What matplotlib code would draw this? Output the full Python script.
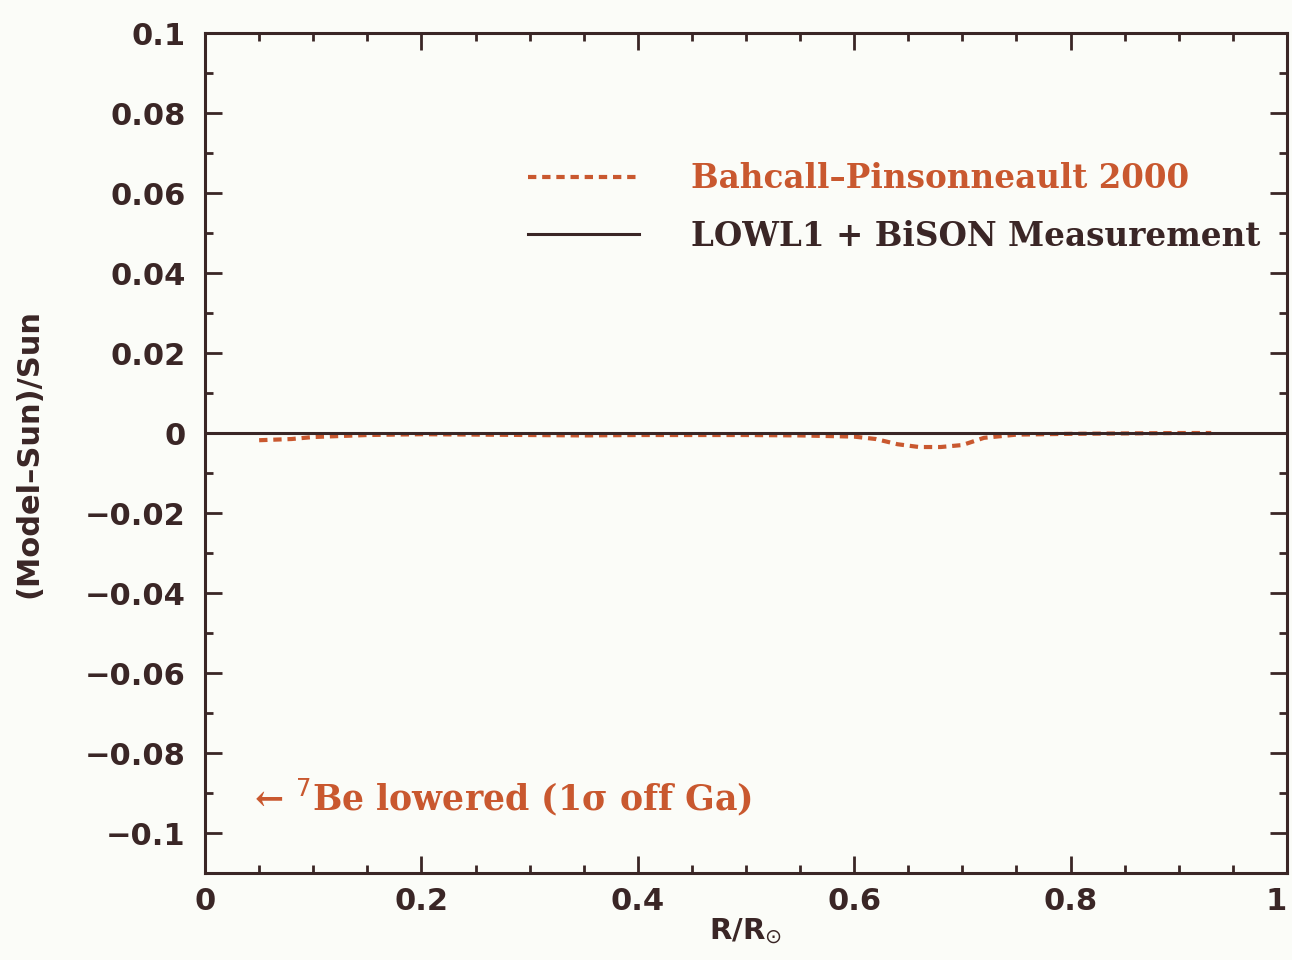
import numpy as np
import matplotlib
matplotlib.use('Agg')
import matplotlib.pyplot as plt
from matplotlib.ticker import MultipleLocator, FixedLocator
from matplotlib.lines import Line2D

# sound speed residuals, standard solar model vs helioseismic inversion
r_model = [0.05, 0.08, 0.10, 0.15, 0.20, 0.25, 0.30, 0.35, 0.40, 0.45, 0.50,
           0.55, 0.60, 0.62, 0.64, 0.66, 0.68, 0.70, 0.72, 0.75, 0.80, 0.85,
           0.90, 0.93]
dc_model = [-0.0018, -0.0015, -0.0010, -0.0005, -0.0003, -0.0004, -0.0005,
            -0.0006, -0.0005, -0.0005, -0.0005, -0.0006, -0.0009, -0.0015,
            -0.0028, -0.0035, -0.0035, -0.0030, -0.0012, -0.0004, -0.0002,
            -0.0001, 0.0, 0.0]
r_sun = [0.0, 1.0]
dc_sun = [0.0, 0.0]

x_ticks = [0, 0.2, 0.4, 0.6, 0.8, 1]
x_ticklabels = ['0', '0.2', '0.4', '0.6', '0.8', '1']
y_ticks = [-0.1, -0.08, -0.06, -0.04, -0.02, 0, 0.02, 0.04, 0.06, 0.08, 0.1]
y_ticklabels = ['\u22120.1', '\u22120.08', '\u22120.06', '\u22120.04', '\u22120.02',
                '0', '0.02', '0.04', '0.06', '0.08', '0.1']

ink = '#3a2626'
orange = '#c9582f'
bg = '#fbfcf8'

fig = plt.figure(figsize=(12.92, 9.6), dpi=100, facecolor=bg)
ax = fig.add_axes([0.1587, 0.0906, 0.8374, 0.875])
ax.set_facecolor(bg)

ax.plot(r_sun, dc_sun, color=ink, lw=2.2, zorder=3)
ax.plot(r_model, dc_model, color=orange, lw=3.0, ls=(0, (2.0, 1.4)), zorder=2)

ax.set_xlim(0, 1)
ax.set_ylim(-0.11, 0.1)
ax.xaxis.set_major_locator(FixedLocator(x_ticks))
ax.xaxis.set_minor_locator(MultipleLocator(0.05))
ax.yaxis.set_major_locator(FixedLocator(y_ticks))
ax.yaxis.set_minor_locator(MultipleLocator(0.01))
ax.set_xticklabels(x_ticklabels)
ax.set_yticklabels(y_ticklabels)

for s in ax.spines.values():
    s.set_linewidth(2.2)
    s.set_color(ink)
ax.tick_params(which='both', direction='in', top=True, right=True,
               color=ink, width=2.0)
ax.tick_params(which='major', length=12, labelsize=22, labelcolor=ink)
ax.tick_params(axis='y', which='major', pad=14)
ax.tick_params(axis='x', which='major', pad=10)
ax.tick_params(which='minor', length=6)
for lab in ax.get_xticklabels() + ax.get_yticklabels():
    lab.set_fontweight('bold')
ax.get_xticklabels()[-1].set_horizontalalignment('right')

ax.set_xlabel(r'R/R$_{\odot}$', fontsize=21, fontweight='bold', color=ink,
              labelpad=0)
ax.set_ylabel('(Model\u2013Sun)/Sun', fontsize=22, fontweight='bold', color=ink,
              labelpad=30)

handles = [Line2D([], [], color=orange, lw=3.0, ls=(0, (2.0, 1.4))),
           Line2D([], [], color=ink, lw=2.2)]
leg = ax.legend(handles, ['Bahcall\u2013Pinsonneault 2000', 'LOWL1 + BiSON Measurement'],
                loc='upper left', bbox_to_anchor=(0.2985, 0.846), frameon=False,
                borderpad=0, borderaxespad=0,
                handlelength=3.4, handletextpad=1.6, labelspacing=0.75,
                prop={'family': 'DejaVu Serif', 'weight': 'bold', 'size': 23.5})
leg.get_texts()[0].set_color(orange)
leg.get_texts()[1].set_color(ink)

ax.text(0.045, -0.091, '\u2190 $^{7}$Be lowered (1\u03c3 off Ga)', color=orange,
        fontsize=25, fontweight='bold', family='DejaVu Serif', va='center')

fig.savefig('out.png', dpi=100, facecolor=bg)
